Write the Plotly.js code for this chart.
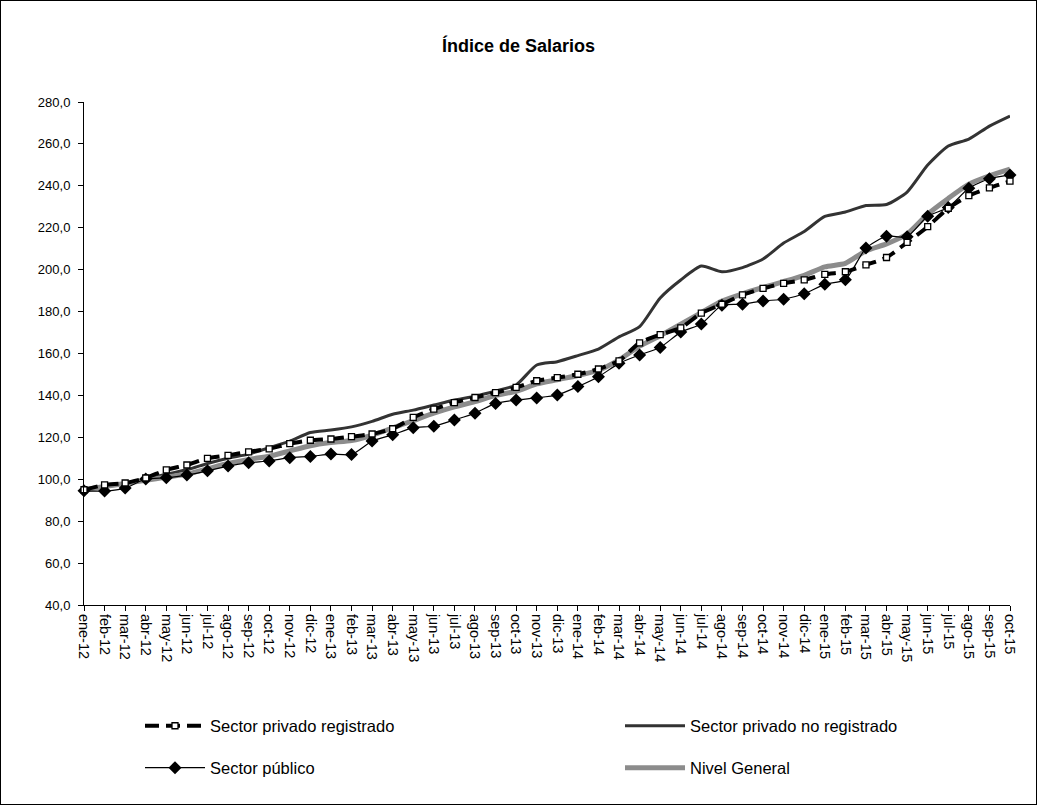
<!DOCTYPE html>
<html>
<head>
<meta charset="utf-8">
<script src="https://cdn.plot.ly/plotly-3.0.1.min.js"></script>
<style>
  html, body { margin: 0; padding: 0; background: #fff; }
  #frame { position: absolute; left: 0; top: 0; width: 1035px; height: 803px; border: 1px solid #000; }
  #chart { width: 1035px; height: 803px; }
</style>
</head>
<body>
<div id="frame"><div id="chart"></div></div>
<script>
const months = ["ene-12","feb-12","mar-12","abr-12","may-12","jun-12","jul-12","ago-12","sep-12","oct-12","nov-12","dic-12",
  "ene-13","feb-13","mar-13","abr-13","may-13","jun-13","jul-13","ago-13","sep-13","oct-13","nov-13","dic-13",
  "ene-14","feb-14","mar-14","abr-14","may-14","jun-14","jul-14","ago-14","sep-14","oct-14","nov-14","dic-14",
  "ene-15","feb-15","mar-15","abr-15","may-15","jun-15","jul-15","ago-15","sep-15","oct-15"];

const privadoRegistrado = [95.0, 97.3, 98.2, 100.6, 104.5, 106.8, 110.0, 111.4, 113.1, 114.5, 117.0, 118.6,
  119.2, 120.3, 121.6, 124.1, 129.5, 133.5, 136.6, 139.0, 141.3, 143.8, 147.0, 148.5,
  150.1, 152.6, 156.5, 165.1, 169.0, 172.2, 179.3, 183.5, 188.0, 191.1, 193.5, 195.1,
  197.8, 199.0, 202.3, 205.8, 213.0, 220.5, 229.3, 235.3, 239.0, 242.2];

const privadoNoRegistrado = [95.0, 96.8, 98.0, 99.8, 102.5, 104.5, 107.5, 110.0, 112.0, 115.0, 118.2, 122.3,
  123.5, 125.0, 127.6, 131.0, 133.0, 135.4, 137.8, 139.6, 142.1, 145.0, 154.5, 156.1,
  159.0, 162.1, 167.9, 172.8, 186.5, 195.1, 201.7, 199.0, 201.0, 205.1, 212.7, 218.2,
  225.4, 227.5, 230.6, 231.1, 237.0, 249.9, 259.0, 262.3, 268.5, 273.3];

const sectorPublico = [94.5, 94.4, 95.8, 100.1, 100.7, 102.0, 104.0, 106.3, 107.9, 108.7, 110.3, 110.9,
  112.0, 111.8, 118.2, 121.2, 124.6, 125.3, 128.3, 131.5, 136.2, 137.8, 138.8, 140.2,
  144.2, 148.9, 155.3, 159.3, 162.9, 170.2, 174.1, 183.0, 183.5, 185.1, 185.9, 188.5,
  193.0, 195.2, 210.3, 216.0, 215.7, 225.5, 229.7, 238.8, 243.4, 245.2];

const nivelGeneral = [95.0, 96.5, 98.0, 99.5, 101.0, 102.5, 105.0, 107.5, 109.5, 111.0, 113.5, 116.0,
  117.5, 118.5, 121.0, 124.5, 128.0, 131.5, 134.5, 137.0, 140.0, 142.0, 145.5, 147.5,
  149.5, 152.0, 157.0, 163.5, 168.5, 174.0, 179.5, 185.0, 188.5, 191.5, 194.3, 197.3,
  201.3, 203.0, 209.0, 212.3, 217.0, 226.5, 234.0, 240.8, 244.8, 248.0];

const yTicks = [40, 60, 80, 100, 120, 140, 160, 180, 200, 220, 240, 260, 280];

const traces = [
  {
    x: months, y: privadoNoRegistrado, name: "Sector privado no registrado",
    type: "scatter", mode: "lines",
    line: { color: "#333333", width: 3, shape: "spline", smoothing: 0.6 },
    legend: "legend", legendrank: 2
  },
  {
    x: months, y: nivelGeneral, name: "Nivel General",
    type: "scatter", mode: "lines",
    line: { color: "#8c8c8c", width: 5, shape: "spline", smoothing: 0.6 },
    legend: "legend2", legendrank: 2
  },
  {
    x: months, y: sectorPublico, name: "Sector público",
    type: "scatter", mode: "lines+markers",
    line: { color: "#000000", width: 1.2, shape: "spline", smoothing: 0.6 },
    marker: { symbol: "diamond", size: 10, color: "#000000" },
    cliponaxis: false,
    legend: "legend2", legendrank: 1
  },
  {
    x: months, y: privadoRegistrado, name: "Sector privado registrado",
    type: "scatter", mode: "lines+markers",
    line: { color: "#000000", width: 4, dash: "14px,7px", shape: "spline", smoothing: 0.6 },
    marker: { symbol: "square", size: 6, color: "#ffffff", line: { color: "#000000", width: 1.3 } },
    cliponaxis: false,
    legend: "legend", legendrank: 1
  }
];

const legendFont = { family: "Liberation Sans, Arial, sans-serif", size: 16.5, color: "#000" };

const layout = {
  width: 1035, height: 803,
  margin: { l: 83, r: 26, t: 101, b: 199 },
  paper_bgcolor: "#ffffff", plot_bgcolor: "#ffffff",
  separators: ",.",
  font: { family: "Liberation Sans, Arial, sans-serif", color: "#000" },
  title: {
    text: "<b>Índice de Salarios</b>",
    font: { family: "Liberation Sans, Arial, sans-serif", size: 18, color: "#000" },
    x: 0.5, xref: "container", y: 0.944, yref: "container", yanchor: "middle"
  },
  xaxis: {
    type: "category", range: [0, 45],
    showgrid: false, zeroline: false,
    showline: true, linecolor: "#000", linewidth: 1,
    ticks: "outside", ticklen: 5, tickcolor: "#000",
    tickangle: 90, tickfont: { size: 14.5, color: "#000" },
    fixedrange: true
  },
  yaxis: {
    range: [40, 280],
    tickvals: yTicks, tickformat: ".1f",
    showgrid: false, zeroline: false,
    showline: true, linecolor: "#000", linewidth: 1,
    ticks: "outside", ticklen: 5, tickcolor: "#000",
    ticklabelstandoff: 5,
    tickfont: { size: 13, color: "#000" },
    fixedrange: true
  },
  showlegend: true,
  legend: {
    orientation: "h", x: -0.001, xanchor: "left", y: -0.2406, yanchor: "middle",
    indentation: 64,
    entrywidth: 341, entrywidthmode: "pixels", itemwidth: 60,
    font: legendFont, bgcolor: "rgba(0,0,0,0)", traceorder: "normal"
  },
  legend2: {
    orientation: "h", x: -0.001, xanchor: "left", y: -0.324, yanchor: "middle",
    indentation: 64,
    entrywidth: 341, entrywidthmode: "pixels", itemwidth: 60,
    font: legendFont, bgcolor: "rgba(0,0,0,0)", traceorder: "normal"
  }
};

Plotly.newPlot("chart", traces, layout, { displayModeBar: false, staticPlot: true });
</script>
</body>
</html>
